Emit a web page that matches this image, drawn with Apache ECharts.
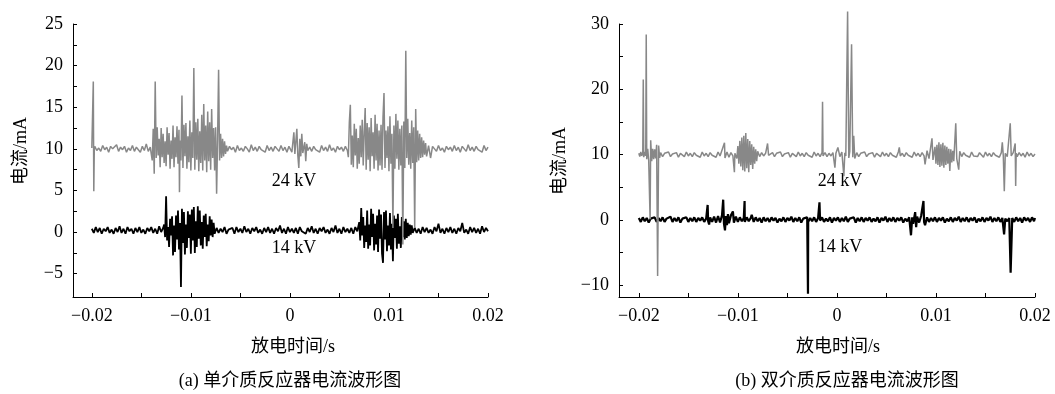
<!DOCTYPE html>
<html><head><meta charset="utf-8">
<script src="https://cdn.jsdelivr.net/npm/echarts@6/dist/echarts.min.js"></script>
<style>html,body{margin:0;padding:0;background:#fff}#c{width:1055px;height:394px}</style>
</head><body><div id="c"></div>
<script>
// Tick values
var xTicks = [-0.02,-0.015,-0.01,-0.005,0,0.005,0.01,0.015,0.02];
var xLabels = [-0.02,-0.01,0,0.01,0.02];
var yTicksA = [-5,-2.5,0,2.5,5,7.5,10,12.5,15,17.5,20,22.5,25];
var yLabelsA = [-5,0,5,10,15,20,25];
var yTicksB = [-10,-5,0,5,10,15,20,25,30];
var yLabelsB = [-10,0,10,20,30];

// (a) single-dielectric reactor, 24 kV  [t (s), current (mA)]
var a24 = [[-0.0200,10.1],[-0.0199,10.3],[-0.01985,18.1],[-0.0198,4.9],[-0.01975,10.0],
[-0.0197,10.3],[-0.0195,9.8],[-0.0193,10.1],[-0.0191,9.7],[-0.0189,10.4],[-0.0187,9.9],[-0.0185,10.2],[-0.0183,9.6],[-0.0181,10.3],[-0.0179,10.0],[-0.0177,9.8],[-0.0175,10.5],[-0.0173,9.7],[-0.0171,10.2],[-0.0169,9.9],[-0.0167,10.3],[-0.0165,9.6],[-0.0163,10.1],[-0.0161,9.8],[-0.0159,10.4],[-0.0157,9.7],[-0.0155,10.2],[-0.0153,10.0],[-0.0151,9.6],[-0.0149,10.3],[-0.0147,9.8],[-0.0145,10.6],[-0.0143,9.7],[-0.0141,10.2],
[-0.0139,8.6],[-0.0138,12.4],[-0.0137,7.0],[-0.0136,18.1],[-0.0135,8.9],[-0.0134,12.6],[-0.0133,9.2],[-0.0132,11.2],[-0.0131,7.8],[-0.0130,12.5],[-0.0129,9.0],[-0.0128,11.8],[-0.0127,8.3],[-0.0126,10.9],[-0.0125,7.9],[-0.0124,12.6],[-0.0123,9.3],[-0.0122,11.9],[-0.0121,7.6],[-0.0120,11.0],[-0.0119,8.8],[-0.0118,12.8],[-0.0117,7.8],[-0.0116,11.4],[-0.0115,9.0],[-0.0114,12.7],[-0.0113,8.2],[-0.0112,12.3],[-0.01115,4.8],[-0.0111,11.0],[-0.0110,8.6],[-0.0109,16.4],[-0.0108,7.7],[-0.0107,12.9],[-0.0106,9.1],[-0.0105,13.1],[-0.0104,7.6],[-0.0103,11.5],[-0.0102,8.4],[-0.0101,13.4],[-0.0100,7.4],[-0.0099,12.0],[-0.0098,8.9],[-0.0097,19.7],[-0.0096,7.5],[-0.0095,13.2],[-0.0094,8.7],[-0.0093,13.6],[-0.0092,7.3],[-0.0091,12.1],[-0.0090,8.3],[-0.0089,14.1],[-0.0088,7.4],[-0.0087,15.4],[-0.0086,8.6],[-0.0085,12.8],[-0.0084,7.2],[-0.0083,14.5],[-0.0082,8.5],[-0.0081,13.2],[-0.0080,7.5],[-0.0079,14.8],[-0.0078,8.9],[-0.0077,12.5],[-0.0076,7.4],[-0.0075,12.6],[-0.0074,4.6],[-0.0073,11.2],[-0.0072,19.5],[-0.0071,8.6],[-0.0070,11.8],[-0.0069,8.9],[-0.0068,11.2],[-0.0067,9.1],[-0.0066,10.9],[-0.0065,9.4],[-0.0064,10.4],
[-0.0063,9.7],[-0.0061,10.3],[-0.0059,9.9],[-0.0057,10.2],[-0.0055,9.6],[-0.0053,10.4],[-0.0051,9.8],[-0.0049,10.1],[-0.0047,9.7],[-0.0045,10.3],[-0.0043,10.0],[-0.0041,9.6],[-0.0039,10.5],[-0.0037,9.8],[-0.0035,10.2],[-0.0033,9.7],[-0.0031,10.3],[-0.0029,9.9],[-0.0027,10.1],[-0.0025,9.6],[-0.0023,10.4],[-0.0021,9.8],[-0.0019,10.2],[-0.0017,9.7],[-0.0015,10.3],[-0.0013,10.0],[-0.0011,9.7],[-0.0009,10.4],[-0.0007,9.8],[-0.0005,10.2],[-0.0003,9.6],[-0.0001,10.3],
[0.0002,9.6],[0.0004,12.0],[0.0005,9.4],[0.0007,12.4],[0.0008,9.2],[0.0009,7.7],[0.0010,11.2],[0.0011,9.1],[0.0012,11.8],[0.0013,9.5],[0.0015,10.8],[0.0016,8.5],[0.0017,10.6],[0.0018,9.8],
[0.0020,10.2],[0.0022,9.7],[0.0024,10.3],[0.0026,9.9],[0.0028,10.1],[0.0030,9.6],[0.0032,10.4],[0.0034,9.8],[0.0036,10.2],[0.0038,9.7],[0.0040,10.5],[0.0042,9.8],[0.0044,10.1],[0.0046,9.6],[0.0048,10.3],[0.0050,9.9],[0.0052,10.2],[0.0054,9.7],[0.0056,10.3],[0.0058,9.8],
[0.0059,9.0],[0.0060,13.2],[0.0061,15.3],[0.0062,8.1],[0.0063,11.6],[0.0064,7.8],[0.0065,13.0],[0.0066,9.2],[0.0067,12.4],[0.0068,7.6],[0.0069,11.3],[0.0070,8.2],[0.0071,12.8],[0.0072,9.0],[0.0073,13.5],[0.0074,8.0],[0.0075,11.9],[0.0076,14.9],[0.0077,7.5],[0.0078,13.1],[0.0079,8.7],[0.0080,12.6],[0.0081,7.3],[0.0082,13.7],[0.0083,9.1],[0.0084,12.0],[0.0085,7.6],[0.0086,14.1],[0.0087,8.6],[0.0088,13.0],[0.0089,7.4],[0.0090,12.2],[0.0091,8.0],[0.0092,12.9],[0.0093,7.5],[0.0094,13.8],[0.0095,16.7],[0.0096,7.7],[0.0097,12.2],[0.0098,8.9],[0.0099,12.7],[0.0100,7.3],[0.0101,13.9],[0.0102,8.2],[0.0103,11.8],[0.0104,0.5],[0.0105,12.8],[0.0106,7.6],[0.0107,14.2],[0.0108,8.8],[0.0109,13.4],[0.0110,7.5],[0.0111,12.4],[0.0112,8.0],[0.0113,12.8],[0.0114,-1.5],[0.0115,13.3],[0.0116,7.7],[0.0117,21.8],[0.0118,8.9],[0.0119,13.6],[0.0120,8.1],[0.0121,11.9],[0.0122,7.6],[0.0123,13.4],[0.0124,8.3],[0.0125,12.6],[0.0126,0.5],[0.0127,14.8],[0.0128,8.4],[0.0129,12.2],[0.0130,8.6],[0.0131,11.8],[0.0132,8.9],[0.0133,11.4],[0.0134,9.0],[0.0135,11.0],[0.0136,9.3],[0.0137,10.7],[0.0138,9.1],
[0.0140,10.4],[0.0142,8.9],[0.0144,10.3],
[0.0146,10.2],[0.0148,9.7],[0.0150,10.4],[0.0152,9.8],[0.0154,10.1],[0.0156,9.6],[0.0158,10.3],[0.0160,9.9],[0.0162,10.2],[0.0164,9.7],[0.0166,10.4],[0.0168,9.8],[0.0170,10.2],[0.0172,9.6],[0.0174,10.3],[0.0176,10.0],[0.0178,9.7],[0.0180,10.5],[0.0182,9.8],[0.0184,10.2],[0.0186,9.7],[0.0188,10.3],[0.0190,9.9],[0.0192,10.1],[0.0194,9.6],[0.0196,10.4],[0.0198,9.8],[0.0200,10.2]];

// (a) single-dielectric reactor, 14 kV
var a14 = [[-0.0200,0.4],[-0.0198,-0.1],[-0.0196,0.6],[-0.0194,0.0],[-0.0192,0.5],[-0.0190,-0.2],[-0.0188,0.4],[-0.0186,0.1],[-0.0184,0.6],[-0.0182,-0.1],[-0.0180,0.3],[-0.0178,-0.2],[-0.0176,0.5],[-0.0174,0.0],[-0.0172,0.7],[-0.0170,-0.1],[-0.0168,0.4],[-0.0166,-0.2],[-0.0164,0.6],[-0.0162,0.1],[-0.0160,0.4],[-0.0158,-0.2],[-0.0156,0.5],[-0.0154,0.0],[-0.0152,0.6],[-0.0150,-0.1],[-0.0148,0.3],[-0.0146,-0.2],[-0.0144,0.5],[-0.0142,0.1],[-0.0140,0.6],[-0.0138,-0.1],[-0.0136,0.4],[-0.0134,-0.2],[-0.0132,0.7],[-0.0130,0.0],[-0.0128,0.5],
[-0.0127,0.9],[-0.0126,-0.6],[-0.0125,4.3],[-0.0124,-1.0],[-0.0123,0.6],[-0.0122,-1.8],[-0.0121,1.6],[-0.0120,-0.4],[-0.0119,1.9],[-0.0118,-2.8],[-0.0117,0.8],[-0.0116,-2.4],[-0.0115,2.0],[-0.0114,-0.9],[-0.0113,2.6],[-0.0112,-2.1],[-0.0111,1.1],[-0.0110,-6.6],[-0.0109,2.8],[-0.0108,-1.3],[-0.0107,2.4],[-0.0106,-2.7],[-0.0105,0.9],[-0.0104,-1.9],[-0.0103,2.5],[-0.0102,-0.7],[-0.0101,2.1],[-0.0100,-2.6],[-0.0099,2.7],[-0.0098,-1.0],[-0.0097,3.0],[-0.0096,-2.5],[-0.0095,1.3],[-0.0094,-1.8],[-0.0093,3.1],[-0.0092,-0.8],[-0.0091,2.6],[-0.0090,-1.6],[-0.0089,1.2],[-0.0088,-2.0],[-0.0087,2.0],[-0.0086,-0.6],[-0.0085,2.2],[-0.0084,-1.7],[-0.0083,0.9],[-0.0082,-1.1],[-0.0081,1.9],[-0.0080,-0.4],[-0.0079,1.5],[-0.0078,-0.6],[-0.0077,1.1],[-0.0076,-0.2],
[-0.0074,0.5],[-0.0072,-0.1],[-0.0070,0.4],[-0.0068,0.0],[-0.0066,0.6],[-0.0064,-0.2],[-0.0062,0.3],[-0.0060,0.1],[-0.0058,0.5],[-0.0056,-0.2],[-0.0054,0.6],[-0.0052,0.0],[-0.0050,0.4],[-0.0048,-0.1],[-0.0046,0.7],[-0.0044,0.0],[-0.0042,0.4],[-0.0040,-0.2],[-0.0038,0.5],[-0.0036,0.1],[-0.0034,0.6],[-0.0032,-0.1],[-0.0030,0.3],[-0.0028,-0.2],[-0.0026,0.5],[-0.0024,0.0],[-0.0022,0.6],[-0.0020,-0.1],[-0.0018,0.4],[-0.0016,-0.2],[-0.0014,0.5],[-0.0012,0.1],[-0.0010,0.8],[-0.0008,-0.1],[-0.0006,0.4],[-0.0004,-0.2],[-0.0002,0.6],[0.0000,0.0],[0.0002,0.4],[0.0004,-0.1],[0.0006,0.5],[0.0008,-0.2],[0.0010,0.6],[0.0012,0.1],[0.0014,0.3],[0.0016,-0.2],[0.0018,0.5],[0.0020,0.0],[0.0022,0.7],[0.0024,-0.1],[0.0026,0.4],[0.0028,-0.2],[0.0030,0.5],[0.0032,0.1],[0.0034,0.6],[0.0036,-0.1],[0.0038,0.3],[0.0040,-0.2],[0.0042,0.5],[0.0044,0.0],[0.0046,0.8],[0.0048,-0.1],[0.0050,0.4],[0.0052,-0.2],[0.0054,0.6],[0.0056,0.0],[0.0058,0.4],[0.0060,-0.1],[0.0062,0.5],[0.0064,-0.2],[0.0066,0.6],[0.0068,0.1],
[0.0070,1.2],[0.0071,-1.0],[0.0072,2.9],[0.0073,-0.4],[0.0074,1.8],[0.0075,-1.9],[0.0076,0.8],[0.0077,-1.2],[0.0078,2.6],[0.0079,-2.0],[0.0080,0.9],[0.0081,-1.6],[0.0082,2.8],[0.0083,-0.6],[0.0084,2.2],[0.0085,-2.2],[0.0086,1.0],[0.0087,-1.5],[0.0088,2.0],[0.0089,-2.4],[0.0090,2.7],[0.0091,-0.8],[0.0092,2.1],[0.0093,-2.6],[0.0094,-3.7],[0.0095,2.4],[0.0096,-0.9],[0.0097,2.6],[0.0098,-2.3],[0.0099,0.8],[0.0100,-1.6],[0.0101,2.3],[0.0102,-2.1],[0.0103,1.0],[0.0104,-3.5],[0.0105,2.0],[0.0106,-0.7],[0.0107,1.6],[0.0108,-2.0],[0.0109,2.2],[0.0110,-1.4],[0.0111,0.7],[0.0112,-1.9],[0.0113,1.8],[0.0114,-0.6],[0.0115,1.3],[0.0116,-0.9],[0.0117,1.6],[0.0118,-0.7],[0.0119,1.1],[0.0120,-0.5],[0.0121,0.9],[0.0122,-0.3],[0.0123,0.8],[0.0124,-0.1],
[0.0126,0.5],[0.0128,-0.1],[0.0130,0.4],[0.0132,-0.2],[0.0134,0.6],[0.0136,0.0],[0.0138,0.5],[0.0140,-0.1],[0.0142,0.3],[0.0144,-0.2],[0.0146,0.6],[0.0148,0.1],[0.0150,1.0],[0.0152,-0.1],[0.0154,0.4],[0.0156,-0.2],[0.0158,0.5],[0.0160,0.0],[0.0162,0.6],[0.0164,-0.1],[0.0166,0.4],[0.0168,-0.2],[0.0170,0.5],[0.0172,0.1],[0.0174,1.1],[0.0176,-0.1],[0.0178,0.3],[0.0180,-0.2],[0.0182,0.6],[0.0184,0.0],[0.0186,0.5],[0.0188,-0.1],[0.0190,0.4],[0.0192,-0.2],[0.0194,0.7],[0.0196,0.0],[0.0198,0.5],[0.0200,0.1]];

// (b) double-dielectric reactor, 24 kV
var b24 = [[-0.0200,10.2],[-0.0199,9.7],[-0.0198,10.4],[-0.0197,9.8],[-0.0196,10.3],[-0.01955,21.5],[-0.0195,9.6],[-0.0194,10.4],[-0.0193,9.8],[-0.01925,28.4],[-0.0192,9.3],[-0.0191,10.9],[-0.0190,9.1],[-0.01886,0.1],[-0.0188,12.2],[-0.0187,9.0],[-0.0186,10.9],[-0.0185,9.3],[-0.0184,10.8],[-0.0183,9.4],[-0.0182,11.5],[-0.0181,-8.6],[-0.0180,11.4],[-0.0179,9.5],
[-0.0178,10.3],[-0.0176,9.7],[-0.0174,10.2],[-0.0172,9.9],[-0.0170,10.4],[-0.0168,9.7],[-0.0166,10.1],[-0.0164,9.8],[-0.0162,10.3],[-0.0160,9.6],[-0.0158,10.2],[-0.0156,10.0],[-0.0154,9.7],[-0.0152,10.4],[-0.0150,9.8],[-0.0148,10.2],[-0.0146,9.7],[-0.0144,10.3],[-0.0142,9.9],[-0.0140,10.1],[-0.0138,9.6],[-0.0136,10.4],[-0.0134,9.8],[-0.0132,10.2],[-0.0130,9.7],[-0.0128,10.3],[-0.0126,9.9],[-0.0124,10.2],[-0.0122,9.6],[-0.0120,10.4],[-0.0118,9.8],
[-0.0116,9.8],[-0.01135,11.8],[-0.0113,9.5],[-0.0111,10.4],[-0.0109,9.6],[-0.0107,10.3],[-0.0105,9.8],[-0.01035,7.3],[-0.0103,10.2],[-0.0101,9.4],[-0.0100,11.3],[-0.0099,8.6],[-0.0098,12.1],[-0.0097,8.2],[-0.0096,12.6],[-0.0095,7.6],[-0.0094,12.9],[-0.0093,7.4],[-0.0092,13.3],[-0.0091,7.9],[-0.0090,12.4],[-0.0089,7.3],[-0.0088,12.1],[-0.0087,8.4],[-0.0086,11.6],[-0.0085,7.8],[-0.0084,11.2],[-0.0083,8.6],[-0.0082,10.8],[-0.0081,9.0],[-0.0080,10.5],[-0.0078,9.7],[-0.0076,10.3],[-0.0074,9.8],[-0.0072,10.2],[-0.0070,11.7],[-0.0069,9.9],[-0.0067,10.2],
[-0.0065,10.3],[-0.0063,9.7],[-0.0061,10.2],[-0.0059,9.9],[-0.0057,10.4],[-0.0055,9.7],[-0.0053,10.1],[-0.0051,9.8],[-0.0049,10.3],[-0.0047,9.6],[-0.0045,10.2],[-0.0043,10.0],[-0.0041,9.7],[-0.0039,10.4],[-0.0037,9.8],[-0.0035,10.2],[-0.0033,9.7],[-0.0031,10.3],[-0.0029,9.9],[-0.0027,10.1],[-0.0025,9.6],[-0.0023,10.4],[-0.0021,9.8],[-0.0019,10.2],[-0.0017,9.7],[-0.0015,10.3],
[-0.00145,18.1],[-0.0014,9.8],[-0.0012,10.3],[-0.0010,9.7],[-0.0008,10.2],[-0.0006,9.8],[-0.0004,10.3],[-0.0002,8.0],[-0.0001,10.2],[0.0001,11.1],[0.0003,9.7],[0.0005,10.4],[0.0007,6.7],[0.0008,10.3],[0.0009,9.8],[0.00108,31.9],[0.0012,9.5],[0.0013,10.5],[0.00148,26.9],[0.0016,9.6],[0.0017,12.9],[0.0018,9.4],
[0.0020,10.3],[0.0022,9.7],[0.0024,10.2],[0.0026,9.9],[0.0028,10.4],[0.0030,9.7],[0.0032,10.1],[0.0034,9.8],[0.0036,10.3],[0.0038,9.6],[0.0040,10.2],[0.0042,10.0],[0.0044,9.7],[0.0046,10.4],[0.0048,9.8],[0.0050,10.2],[0.0052,9.7],[0.0054,10.3],[0.0056,9.9],[0.0058,10.1],[0.0060,9.6],[0.0062,10.4],[0.0063,11.1],[0.0064,9.8],[0.0066,10.2],[0.0068,9.7],[0.0070,10.3],[0.0072,9.9],[0.0074,10.1],[0.0076,9.6],[0.0078,10.4],[0.0080,9.8],[0.0082,10.2],[0.0084,9.7],[0.0086,10.3],[0.0088,9.8],
[0.0089,8.5],[0.0091,10.6],[0.0093,9.4],[0.0096,12.5],[0.0097,9.2],[0.0099,11.2],[0.0100,8.6],[0.0101,11.5],[0.0102,8.4],[0.0103,11.9],[0.0104,8.1],[0.0105,11.6],[0.0106,8.3],[0.0107,11.8],[0.0108,8.0],[0.0109,11.4],[0.0110,8.4],[0.0111,11.2],[0.0112,8.6],[0.0113,10.9],[0.0114,7.5],[0.0115,10.8],[0.0116,8.8],[0.0117,10.6],[0.0118,9.0],[0.0120,14.8],[0.0121,9.4],[0.0123,7.7],[0.0124,10.5],
[0.0126,9.7],[0.0128,10.3],[0.0130,9.9],[0.0132,10.2],[0.0134,9.6],[0.0136,10.4],[0.0138,9.8],[0.0140,10.1],[0.0142,9.7],[0.0144,10.3],[0.0146,10.0],[0.0148,9.6],[0.0150,10.4],[0.0152,9.8],[0.0154,10.2],[0.0156,9.7],[0.0158,10.3],[0.0160,9.9],[0.0162,10.1],[0.0164,9.6],[0.0166,10.3],
[0.0167,11.9],[0.0168,9.8],[0.0169,4.4],[0.0170,10.2],[0.0172,9.7],[0.0175,14.8],[0.0176,9.8],[0.0178,10.3],[0.0180,11.7],[0.01805,5.2],[0.0181,10.2],
[0.0182,9.7],[0.0184,10.3],[0.0186,9.8],[0.0188,10.2],[0.0190,9.6],[0.0192,10.4],[0.0194,9.8],[0.0196,10.2],[0.0198,9.7],[0.0200,10.1]];

// (b) double-dielectric reactor, 14 kV
var b14 = [[-0.0200,0.3],[-0.0198,-0.3],[-0.0196,0.4],[-0.0194,-0.2],[-0.0192,0.3],[-0.0190,-0.4],[-0.0188,0.2],[-0.0186,-0.1],[-0.0184,0.4],[-0.0182,-0.3],[-0.0180,0.3],[-0.0178,-0.2],[-0.0176,0.4],[-0.0174,-0.3],[-0.0172,0.2],[-0.0170,-0.1],[-0.0168,0.5],[-0.0166,-0.3],[-0.0164,0.3],[-0.0162,-0.2],[-0.0160,0.4],[-0.0158,-0.4],[-0.0156,0.2],[-0.0154,-0.1],[-0.0152,0.4],[-0.0150,-0.3],[-0.0148,0.3],[-0.0146,-0.2],[-0.0144,0.4],[-0.0142,-0.3],[-0.0140,0.3],[-0.0138,-0.1],[-0.0136,0.4],[-0.0134,-0.3],[-0.0132,0.2],
[-0.01305,2.3],[-0.0130,-0.2],[-0.0129,-0.7],[-0.0128,0.4],[-0.0126,-0.3],[-0.0124,0.5],[-0.0122,-0.4],[-0.0120,0.6],[-0.0118,-0.4],[-0.0116,0.7],[-0.01148,3.1],[-0.0114,-0.6],[-0.0113,-1.6],[-0.0112,0.6],[-0.0111,-0.8],[-0.0110,0.9],[-0.0109,-0.5],[-0.0107,0.7],[-0.0105,1.3],[-0.0104,-0.4],[-0.0102,0.5],[-0.0100,-0.3],[-0.0098,0.4],[-0.0096,-0.2],[-0.0094,0.3],[-0.00932,2.9],[-0.0093,-0.3],[-0.0091,0.4],[-0.0089,-0.2],[-0.0087,0.3],[-0.0086,0.8],[-0.0084,-0.3],[-0.0082,0.4],[-0.0080,-0.2],[-0.0078,0.3],[-0.0076,-0.4],[-0.0074,0.4],[-0.0072,-0.2],[-0.0070,0.3],[-0.0068,-0.3],[-0.0066,0.4],[-0.0064,-0.1],[-0.0062,0.3],[-0.0060,-0.4],[-0.0058,0.2],[-0.0056,-0.2],[-0.0054,0.4],[-0.0052,-0.3],[-0.0050,0.3],[-0.0048,-0.1],[-0.0046,0.5],[-0.0044,-0.3],[-0.0042,0.3],[-0.0040,-0.2],[-0.0038,0.4],[-0.0036,-0.4],[-0.0034,0.2],[-0.0032,-0.1],[-0.0030,0.4],[-0.00292,-11.3],[-0.0029,-0.3],[-0.0027,0.3],[-0.0025,-0.2],[-0.0023,0.4],[-0.0021,-0.3],[-0.0019,0.3],[-0.00176,2.7],[-0.0017,-0.1],[-0.0015,0.4],[-0.0013,-0.3],[-0.0011,0.2],[-0.0009,-0.2],[-0.0007,0.4],[-0.0005,-0.4],[-0.0003,0.3],[-0.0001,-0.1],[0.0001,0.4],[0.0003,-0.3],[0.0005,0.3],[0.0007,-0.2],[0.0009,0.5],[0.0011,-0.3],[0.0013,0.2],[0.0015,-0.1],[0.0017,0.4],[0.0019,-0.4],[0.0021,0.3],[0.0023,-0.2],[0.0025,0.4],[0.0027,-0.3],[0.0029,0.3],[0.0031,-0.1],[0.0033,0.4],[0.0035,-0.3],[0.0037,0.2],[0.0039,-0.2],[0.0041,0.4],[0.0043,-0.4],[0.0045,0.3],[0.0047,-0.1],[0.0049,0.5],[0.0051,-0.3],[0.0053,0.3],[0.0055,-0.2],[0.0057,0.4],[0.0059,-0.3],[0.0061,0.3],[0.0063,-0.1],[0.0065,0.4],[0.0067,-0.4],[0.0069,0.2],[0.0071,-0.2],[0.0073,0.4],[0.00748,-2.35],[0.0076,0.4],[0.0077,-0.6],[0.0079,1.2],[0.0080,-1.1],[0.0081,0.5],[0.0083,-0.4],[0.0085,0.6],[0.00874,2.9],[0.0088,-0.3],[0.0089,-0.8],[0.0091,0.4],[0.0093,-0.3],[0.0095,0.3],[0.0097,-0.2],[0.0099,0.4],[0.0101,-0.3],[0.0103,0.3],[0.0105,-0.1],[0.0107,0.4],[0.0109,-0.4],[0.0111,0.2],[0.0113,-0.2],[0.0115,0.4],[0.0117,-0.3],[0.0119,0.3],[0.0121,-0.1],[0.0123,0.5],[0.0125,-0.3],[0.0127,0.3],[0.0129,-0.2],[0.0131,0.4],[0.0133,-0.3],[0.0135,0.3],[0.0137,-0.1],[0.0139,0.4],[0.0141,-0.4],[0.0143,0.2],[0.0145,-0.2],[0.0147,0.4],[0.0149,-0.3],[0.0151,0.3],[0.0153,-0.1],[0.0155,0.5],[0.0157,-0.3],[0.0159,0.3],[0.0161,-0.2],[0.0163,0.4],[0.0165,-0.3],[0.0167,0.3],[0.01688,-2.2],[0.0170,0.2],[0.0172,-0.2],[0.0174,0.3],[0.01754,-8.1],[0.0177,0.3],[0.0179,-0.3],[0.0181,0.4],[0.0183,-0.2],[0.0185,0.3],[0.0187,-0.4],[0.0189,0.4],[0.0191,-0.1],[0.0193,0.3],[0.0195,-0.3],[0.0197,0.4],[0.0199,-0.2],[0.0200,0.3]];

var SERIF = "'Liberation Serif','Times New Roman',serif";
var MIXED = "'Liberation Serif','Noto Sans CJK SC',serif";
var GRAY = '#888888';

function fmt(v){ if (v === 0) return '0'; return v < 0 ? '\u2212' + String(-v) : String(v); }

function xAxis(gi, min){
  return {type:'value', gridIndex:gi, min:min, max:0.02,
    axisLine:{onZero:false, lineStyle:{color:'#000', width:1}},
    axisTick:{inside:true, length:4, customValues:xTicks, lineStyle:{color:'#000'}},
    axisLabel:{customValues:xLabels, formatter:fmt, margin:10, color:'#000', fontFamily:SERIF, fontSize:18},
    splitLine:{show:false}};
}
function yAxis(gi, min, max, ticks, labels){
  return {type:'value', gridIndex:gi, min:min, max:max,
    axisLine:{show:true, onZero:false, lineStyle:{color:'#000', width:1}},
    axisTick:{show:true, inside:true, length:4, customValues:ticks, lineStyle:{color:'#000'}},
    axisLabel:{customValues:labels, formatter:fmt, margin:10, color:'#000', fontFamily:SERIF, fontSize:18},
    splitLine:{show:false}};
}
function line(data, xi, yi, color, w){
  return {type:'line', xAxisIndex:xi, yAxisIndex:yi, data:data, showSymbol:false, symbol:'none',
    clip:false, sampling:null, animation:false, lineStyle:{color:color, width:w}, z:2};
}
function txt(x, y, s, size, rot){
  return {type:'text', x:x, y:y, rotation:rot||0, silent:true,
    style:{text:s, x:0, y:0, textAlign:'center', textVerticalAlign:'middle', align:'center', verticalAlign:'middle',
      font:size + 'px ' + MIXED, fill:'#000'}};
}

var chart = echarts.init(document.getElementById('c'), null, {renderer:'canvas'});
chart.setOption({
  animation:false,
  backgroundColor:'#fff',
  grid:[{left:73, top:24, width:415, height:273},{left:619, top:24, width:416, height:273}],
  xAxis:[xAxis(0,-0.0219), xAxis(1,-0.0220)],
  yAxis:[yAxis(0,-7.8,25,yTicksA,yLabelsA), yAxis(1,-11.8,30,yTicksB,yLabelsB)],
  series:[line(a14,0,0,'#000',1.8), line(a24,0,0,GRAY,1.5), line(b14,1,1,'#000',2.2), line(b24,1,1,GRAY,1.5)],
  graphic:[
    txt(21,151,'电流/mA',18,Math.PI/2),
    txt(560,161,'电流/mA',18,Math.PI/2),
    txt(293,347,'放电时间/s',18),
    txt(838,347,'放电时间/s',18),
    txt(290,381,'(a) 单介质反应器电流波形图',18),
    txt(847,381,'(b) 双介质反应器电流波形图',18),
    txt(294,181,'24 kV',18),
    txt(294,248,'14 kV',18),
    txt(840,181,'24 kV',18),
    txt(840,247,'14 kV',18)
  ]
});
</script></body></html>
